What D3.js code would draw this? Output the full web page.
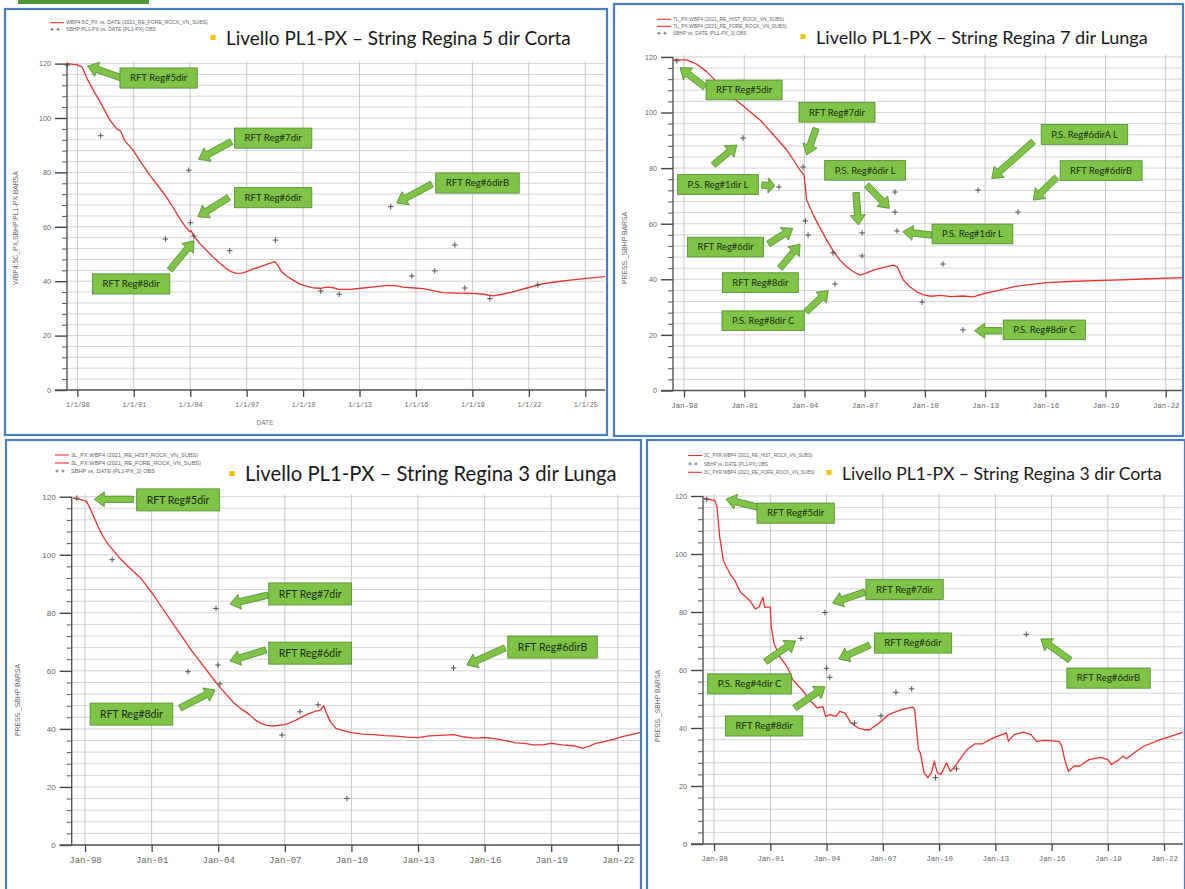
<!DOCTYPE html>
<html>
<head>
<meta charset="utf-8">
<script src="https://cdn.jsdelivr.net/npm/d3@7"></script>
<style>
  body { margin: 0; background: #fff; }
  svg { display: block; }
</style>
</head>
<body>
<svg id="board" width="1185" height="889"></svg>
<script>
// ---- shared axis values -------------------------------------------------
const yTickValues = [0, 20, 40, 60, 80, 100, 120];
const yGridStep = 4;
const xTickYears = [1998, 2001, 2004, 2007, 2010, 2013, 2016, 2019, 2022, 2025];
const xTickSlash = ["1/1/98", "1/1/01", "1/1/04", "1/1/07", "1/1/10", "1/1/13", "1/1/16", "1/1/19", "1/1/22", "1/1/25"];
const xTickJan = ["Jan-98", "Jan-01", "Jan-04", "Jan-07", "Jan-10", "Jan-13", "Jan-16", "Jan-19", "Jan-22", "Jan-25"];

// ---- String Regina 5 dir Corta ----------------------------------------
const titleCorta5 = "Livello PL1-PX – String Regina 5 dir Corta";
const legendCorta5 = [
  ["line", "WBP4:5C_PX vs. DATE (2021_RE_FORE_ROCK_VN_SUBS)"],
  ["cross", "SBHP:PL1-PX vs. DATE (PL1-PX) OBS"]
];
const simCorta5 = [
  [1997.45,120],[1998.0,119.5],[1998.25,118.8],[1998.55,114],[1998.9,109.6],[1999.3,104.8],[1999.72,99.3],
  [2000.1,96],[2000.3,95.2],[2000.52,91.7],[2000.96,88.2],[2001.4,83.5],[2001.85,79],[2002.3,75],[2002.73,71],
  [2003.1,67],[2003.44,63.1],[2003.75,60],[2003.97,58.2],[2004.05,58.6],[2004.15,57],[2004.5,53.9],[2004.85,51.5],
  [2005.2,49],[2005.55,46.8],[2005.9,44.7],[2006.2,43.4],[2006.46,42.9],[2006.75,43],[2007.0,43.5],[2007.35,44.5],
  [2007.7,45.3],[2008.1,46.3],[2008.5,47.2],[2008.65,46],[2008.85,43.5],[2009.15,41.8],[2009.47,40.4],[2009.8,39],
  [2010.18,38.2],[2010.5,37.6],[2010.9,37.4],[2011.3,37.8],[2011.6,37.6],[2011.9,37],[2012.5,37],[2013.2,37.5],
  [2013.9,38],[2014.5,38.5],[2015.0,38.3],[2015.3,37.8],[2015.9,37.5],[2016.4,37.3],[2016.9,36.5],[2017.4,35.8],
  [2018.2,35.6],[2019.0,35.5],[2019.6,35.2],[2020.1,34.6],[2020.6,35.2],[2021.1,36],[2021.9,37.5],[2022.7,39],
  [2023.5,39.8],[2024.3,40.5],[2025.2,41.1],[2026.05,41.7]
];
const obsCorta5 = [
  [1997.48,119.5],[1999.24,93.5],[2002.68,55.5],[2003.92,80.8],[2004.01,61.5],[2004.2,56.6],[2006.1,51.2],
  [2008.53,55.1],[2010.94,36.4],[2011.92,35.2],[2014.66,67.4],[2015.78,41.9],[2017.0,43.8],[2018.07,53.3],
  [2018.6,37.5],[2019.93,33.6],[2022.48,38.6]
];
const notesCorta5 = [
  { text: "RFT Reg#5dir", at: [2002.32,114.7], arrows: [[[2000.36,114.7],[1998.55,119.1]]] },
  { text: "RFT Reg#7dir", at: [2008.41,92.6], arrows: [[[2006.19,91.3],[2004.45,84.8]]] },
  { text: "RFT Reg#6dir", at: [2008.41,70.7], arrows: [[[2006.05,70.8],[2004.41,63.7]]] },
  { text: "RFT Reg#6dirB", at: [2019.27,76.1], arrows: [[[2016.85,75.7],[2014.98,68.75]]] },
  { text: "RFT Reg#8dir", at: [2000.86,39.0], arrows: [[[2002.91,44.1],[2004.2,54.9]]] }
];

// ---- String Regina 7 dir Lunga ----------------------------------------
const titleLunga7 = "Livello PL1-PX – String Regina 7 dir Lunga";
const legendLunga7 = [
  ["line", "7L_PX:WBP4 (2021_RE_HIST_ROCK_VN_SUBS)"],
  ["line", "7L_PX:WBP4 (2021_RE_FORE_ROCK_VN_SUBS)"],
  ["cross", "SBHP vs. DATE (PL1-PX_3) OBS"]
];
const simLunga7 = [
  [1997.47,118.9],[1998.13,118.9],[1998.6,117.5],[1999.13,114.7],[1999.63,111],[2000.1,107.5],[2000.59,104.5],
  [2001.2,100.8],[2001.79,97.3],[2002.45,92],[2003.12,86.5],[2003.45,83],[2003.78,79.3],[2003.98,77.5],
  [2004.11,68.5],[2004.44,63.1],[2004.78,58.5],[2005.11,54.1],[2005.45,50],[2005.77,46.9],[2006.1,44.5],
  [2006.44,42.7],[2006.77,41.5],[2007.1,42.3],[2007.43,43.3],[2007.9,44.2],[2008.43,45.1],[2008.63,44.5],
  [2008.78,42],[2008.93,39.7],[2009.25,37.3],[2009.6,35.5],[2009.92,34.4],[2010.3,33.9],[2010.8,34.2],
  [2011.3,33.8],[2011.9,34],[2012.41,33.7],[2012.9,34.8],[2013.4,35.6],[2014.41,37.3],[2015.2,38.1],
  [2016.07,38.8],[2017.5,39.3],[2019.39,39.7],[2021.2,40.2],[2022.86,40.6]
];
const obsLunga7 = [
  [1997.64,118.6],[2000.94,90.8],[2002.73,73.2],[2003.93,80.4],[2004.05,61],[2004.18,55.9],[2005.42,49.5],
  [2005.52,38.3],[2006.87,56.7],[2006.87,48.4],[2008.51,71.4],[2008.51,64.2],[2008.61,57.4],[2009.86,31.8],
  [2010.9,45.5],[2011.9,21.8],[2012.65,72.1],[2014.64,64.2]
];
const notesLunga7 = [
  { text: "RFT Reg#5dir", at: [2000.99,108.1], arrows: [[[1999.05,109.1],[1997.8,116.1]]] },
  { text: "RFT Reg#7dir", at: [2005.62,100.1], arrows: [[[2004.58,94.3],[2004.11,84.7]]] },
  { text: "P.S. Reg#1dir L", at: [1999.69,74.1], arrows: [[[2001.87,73.9],[2002.53,73.6]], [[1999.46,81.1],[2000.63,88.3]]] },
  { text: "P.S. Reg#6dir L", at: [2007.02,79.2], arrows: [[[2006.57,71.2],[2006.69,59.5]], [[2007.1,73.9],[2008.23,65.5]]] },
  { text: "P.S. Reg#1dir L", at: [2012.37,56.3], arrows: [[[2010.34,55.9],[2008.9,57.1]]] },
  { text: "RFT Reg#6dir", at: [2000.07,51.6], arrows: [[[2002.2,52.7],[2003.42,58.3]]] },
  { text: "RFT Reg#8dir", at: [2001.8,38.8], arrows: [[[2002.78,44],[2003.78,52.7]]] },
  { text: "P.S. Reg#8dir C", at: [2001.94,25.1], arrows: [[[2004.08,28.3],[2005.19,35.9]]] },
  { text: "P.S. Reg#6dirA L", at: [2017.95,92.1], arrows: [[[2015.4,89.5],[2013.33,76.3]]] },
  { text: "RFT Reg#6dirB", at: [2018.78,79.1], arrows: [[[2016.57,76.7],[2015.4,68.5]]] },
  { text: "P.S. Reg#8dir C", at: [2015.95,21.8], arrows: [[[2013.83,21.5],[2012.47,21.5]]] }
];

// ---- String Regina 3 dir Lunga ----------------------------------------
const titleLunga3 = "Livello PL1-PX – String Regina 3 dir Lunga";
const legendLunga3 = [
  ["line", "3L_PX:WBP4 (2021_RE_HIST_ROCK_VN_SUBS)"],
  ["line", "3L_PX:WBP4 (2021_RE_FORE_ROCK_VN_SUBS)"],
  ["cross", "SBHP vs. DATE (PL1-PX_2) OBS"]
];
const simLunga3 = [
  [1997.45,119.5],[1997.8,119],[1998.05,118.5],[1998.2,116.5],[1998.4,113],[1998.6,109.5],[1998.82,106.2],
  [1999.05,103.5],[1999.27,101.6],[1999.55,99],[1999.8,97],[2000.15,94.5],[2000.5,92],[2000.75,89.5],
  [2001.0,87],[2001.45,82],[2001.9,77],[2002.35,72],[2002.8,67],[2003.2,63],[2003.6,59],[2004.0,55],
  [2004.35,52],[2004.7,49],[2005.05,46.8],[2005.4,45],[2005.65,43.2],[2005.9,42],[2006.2,41.2],[2006.5,41],
  [2006.75,41.3],[2007.0,41.5],[2007.25,42.2],[2007.5,43],[2008.0,45],[2008.35,46],[2008.6,46.5],[2008.75,48],
  [2008.9,45],[2009.05,42.5],[2009.3,40.2],[2009.6,39.5],[2010.0,38.7],[2010.5,38.2],[2011.0,38],[2011.5,37.7],
  [2012.0,37.5],[2012.5,37.2],[2013.0,37],[2013.5,37.6],[2014.0,37.8],[2014.6,38],[2015.0,37.3],[2015.5,36.8],
  [2016.0,37],[2016.5,36.6],[2017.0,35.9],[2017.4,35.2],[2017.8,35],[2018.2,34.5],[2018.6,34.5],[2019.0,35],
  [2019.5,34.5],[2020.0,34.2],[2020.4,33.4],[2020.7,34],[2021.0,35],[2021.4,35.6],[2021.8,36.4],[2022.2,37.3],
  [2022.6,38],[2023.0,38.7]
];
const obsLunga3 = [
  [1997.63,119.5],[1999.22,98.3],[2002.64,59.7],[2003.9,81.5],[2003.99,62],[2004.08,55.5],[2006.87,37.9],
  [2007.68,45.9],[2008.5,48.3],[2009.8,16],[2014.6,61]
];
const notesLunga3 = [
  { text: "RFT Reg#5dir", at: [2002.19,118.9], arrows: [[[2000.18,119.1],[1998.42,119.1]]] },
  { text: "RFT Reg#7dir", at: [2008.14,86.5], arrows: [[[2006.24,86.1],[2004.53,83.0]]] },
  { text: "RFT Reg#6dir", at: [2008.14,66.1], arrows: [[[2006.15,67.2],[2004.53,63.4]]] },
  { text: "RFT Reg#6dirB", at: [2019.06,68.2], arrows: [[[2016.92,67.9],[2015.2,62.0]]] },
  { text: "RFT Reg#8dir", at: [2000.09,45.1], arrows: [[[2002.28,47.2],[2003.86,53.4]]] }
];

// ---- String Regina 3 dir Corta ----------------------------------------
const titleCorta3 = "Livello PL1-PX – String Regina 3 dir Corta";
const legendCorta3 = [
  ["line", "3C_PXR:WBP4 (2021_RE_HIST_ROCK_VN_SUBS)"],
  ["cross", "SBHP vs. DATE (PL1-PX) OBS"],
  ["line", "3C_PXR:WBP4 (2021_RE_FORE_ROCK_VN_SUBS)"]
];
const simCorta3 = [
  [1997.48,119.2],[1998.05,118.4],[1998.15,116.5],[1998.3,106],[1998.5,97.7],[1998.9,92.6],[1999.1,90.9],
  [1999.4,86.9],[1999.9,84],[2000.2,81.1],[2000.4,81.7],[2000.6,85.1],[2000.7,81.7],[2001.0,81.7],
  [2001.05,74.9],[2001.2,69.1],[2001.5,64.6],[2001.9,61.1],[2002.2,56.6],[2002.7,53.1],[2003.1,49.7],
  [2003.5,46.9],[2003.8,47.4],[2003.95,44],[2004.2,44.6],[2004.5,44],[2004.7,45.7],[2005.0,45.1],
  [2005.3,41.7],[2005.7,40],[2006.0,39.4],[2006.3,39.4],[2006.8,41.7],[2007.3,44.6],[2008.0,46.3],
  [2008.6,47.2],[2008.7,46.3],[2008.9,32.6],[2009.0,31.4],[2009.2,24.6],[2009.4,22.9],[2009.6,24.6],
  [2009.75,28.6],[2009.9,24.6],[2010.1,24],[2010.4,28],[2010.6,25.1],[2010.8,26.3],[2011.1,29.1],
  [2011.5,32.6],[2011.9,34.5],[2012.3,34.5],[2012.7,36],[2013.1,37.1],[2013.6,38.3],[2013.7,35.4],
  [2014.0,37.7],[2014.5,38.6],[2014.9,37.7],[2015.2,35.4],[2015.6,35.7],[2016.4,35.4],[2016.55,33.7],
  [2016.7,29.1],[2016.9,25.1],[2017.2,26.9],[2017.5,26.9],[2018.0,29.1],[2018.6,29.9],[2019.0,29.1],
  [2019.2,27.4],[2019.6,29.1],[2019.8,30.3],[2020.0,29.4],[2020.4,31.4],[2020.9,33.7],[2021.8,36],
  [2023.0,38.5]
];
const obsCorta3 = [
  [1997.61,118.9],[2002.64,70.9],[2003.91,79.8],[2004.0,60.6],[2004.17,57.5],[2005.49,41.7],[2006.9,44.2],
  [2007.7,52.3],[2008.54,53.5],[2009.81,22.9],[2010.93,25.9],[2014.65,72.3]
];
const notesCorta3 = [
  { text: "RFT Reg#5dir", at: [2002.35,114.1], arrows: [[[2000.36,116.1],[1998.64,118.9]]] },
  { text: "RFT Reg#7dir", at: [2008.16,87.8], arrows: [[[2006.05,86.9],[2004.32,83.1]]] },
  { text: "RFT Reg#6dir", at: [2008.61,69.3], arrows: [[[2006.3,68.6],[2004.65,63.8]]] },
  { text: "P.S. Reg#4dir C", at: [1999.89,55.2], arrows: [[[2000.74,62.9],[2002.34,70.0]]] },
  { text: "RFT Reg#8dir", at: [2000.67,40.7], arrows: [[[2002.3,46.9],[2003.92,54.2]]] },
  { text: "RFT Reg#6dirB", at: [2019.04,57.2], arrows: [[[2016.99,63.4],[2015.43,70.7]]] }
];

// ---- page layout of the four charts -------------------------------------
const panels = [
  { frame: [5, 9, 602, 426], xDom: [1997.45, 2026.05], xPx: [67, 605], yPx: [390, 63.6],
    title: titleCorta5, bullet: [213, 45], titleW: 345, legend: legendCorta5, legendAt: [50, 22.7, 6.6, 5.1],
    yTitle: "WBP4:5C_PX,SBHP:PL1-PX   BARSA", yTitleAt: [18, 228], xTitle: "DATE", xTitleAt: [265, 425],
    tickText: xTickSlash, tickFont: 6.6, yFont: 7.2, sim: simCorta5, obs: obsCorta5, notes: notesCorta5, noteFont: 9.6 },
  { frame: [614, 4, 569, 432], xDom: [1997.45, 2022.86], xPx: [673, 1183], yPx: [390.5, 56.9],
    title: titleLunga7, bullet: [803, 44], titleW: 332, legend: legendLunga7, legendAt: [657, 19.3, 7, 4.9],
    yTitle: "PRESS._SBHP   BARSA", yTitleAt: [627, 248], xTitle: null,
    tickText: xTickJan, tickFont: 7.4, yFont: 7.2, sim: simLunga7, obs: obsLunga7, notes: notesLunga7, noteFont: 9.4 },
  { frame: [6, 440, 635, 460], xDom: [1997.4, 2023.0], xPx: [71.7, 640], yPx: [845, 496.7],
    title: titleLunga3, bullet: [232, 481], titleW: 372, legend: legendLunga3, legendAt: [55, 455, 8, 5.6],
    yTitle: "PRESS._SBHP   BARSA", yTitleAt: [20, 700], xTitle: null,
    tickText: xTickJan, tickFont: 9, yFont: 8, sim: simLunga3, obs: obsLunga3, notes: notesLunga3, noteFont: 10.5 },
  { frame: [647, 440, 538, 460], xDom: [1997.41, 2023.01], xPx: [703, 1183], yPx: [844, 496],
    title: titleCorta3, bullet: [829, 480], titleW: 320, legend: legendCorta3, legendAt: [688, 455.5, 8.4, 4.6],
    yTitle: "PRESS._SBHP   BARSA", yTitleAt: [660, 706], xTitle: null,
    tickText: xTickJan, tickFont: 7.4, yFont: 7.2, sim: simCorta3, obs: obsCorta3, notes: notesCorta3, noteFont: 9.6 }
];

const RED = "#e8332e";
const GREEN = "#7fc446";
const GREEN_EDGE = "#4f8a2c";
const svg = d3.select("#board");

// thin header strip above the charts
svg.append("rect").attr("x", 18).attr("y", 0).attr("width", 131).attr("height", 4).attr("fill", "#4f9a34");

// block arrow outline from tail to head
function blockArrow(x1, y1, x2, y2) {
  const dx = x2 - x1, dy = y2 - y1, L = Math.hypot(dx, dy);
  const ux = dx / L, uy = dy / L, nx = -uy, ny = ux;
  const sw = 3.2, hw = 7.5, hl = Math.min(10, L * 0.5);
  const bx = x2 - ux * hl, by = y2 - uy * hl;
  const pts = [
    [x1 + nx * sw, y1 + ny * sw], [bx + nx * sw, by + ny * sw], [bx + nx * hw, by + ny * hw], [x2, y2],
    [bx - nx * hw, by - ny * hw], [bx - nx * sw, by - ny * sw], [x1 - nx * sw, y1 - ny * sw]
  ];
  return "M" + pts.map(p => p.join(",")).join("L") + "Z";
}

panels.forEach(p => {
  const g = svg.append("g");
  const x = d3.scaleLinear().domain(p.xDom).range(p.xPx);
  const y = d3.scaleLinear().domain([0, 120]).range(p.yPx);
  const left = p.xPx[0], right = p.xPx[1];
  const top = y(120), bottom = y(0);

  // horizontal grid every 4 units
  const gridY = d3.range(0, 121, yGridStep);
  g.append("g").selectAll("line").data(gridY).join("line")
    .attr("x1", left).attr("x2", right)
    .attr("y1", d => y(d)).attr("y2", d => y(d))
    .attr("stroke", "#d0d0d0").attr("stroke-width", 0.9);

  // vertical grid on each labelled year
  const years = xTickYears.filter(v => v >= p.xDom[0] && v <= p.xDom[1]);
  g.append("g").selectAll("line").data(years).join("line")
    .attr("x1", d => x(d)).attr("x2", d => x(d))
    .attr("y1", top - 2).attr("y2", bottom)
    .attr("stroke", "#c8c8c8").attr("stroke-width", 1);

  // y axis: minor ticks every 4, major every 20
  const yMinor = d3.axisLeft(y).tickValues(gridY.filter(v => v % 20 !== 0)).tickSize(5).tickFormat("");
  g.append("g").attr("transform", `translate(${left},0)`).call(yMinor)
    .call(s => s.select(".domain").remove())
    .selectAll("line").attr("stroke", "#555");
  const yMajor = d3.axisLeft(y).tickValues(yTickValues).tickSize(12).tickPadding(4);
  const ya = g.append("g").attr("transform", `translate(${left},0)`).call(yMajor);
  ya.select(".domain").attr("stroke", "#555").attr("stroke-width", 1.4).attr("d", `M0,${top}V${bottom}`);
  ya.selectAll(".tick line").attr("stroke", "#444").attr("stroke-width", 1.4);
  ya.selectAll("text").attr("fill", "#666").attr("font-size", p.yFont).attr("font-family", "Liberation Sans, Arial, sans-serif");

  // x axis
  const xa = d3.axisBottom(x).tickValues(years).tickSize(7).tickPadding(5)
    .tickFormat(d => p.tickText[xTickYears.indexOf(d)]);
  const xg = g.append("g").attr("transform", `translate(0,${bottom})`).call(xa);
  xg.select(".domain").attr("stroke", "#555").attr("stroke-width", 1.6).attr("d", `M${left - 12},0H${right}`);
  xg.selectAll(".tick line").attr("stroke", "#444").attr("stroke-width", 1.3);
  xg.selectAll("text").attr("fill", "#666").attr("font-size", p.tickFont)
    .attr("font-family", "Liberation Mono, DejaVu Sans Mono, monospace");

  // axis titles
  g.append("text").attr("transform", `translate(${p.yTitleAt[0]},${p.yTitleAt[1]}) rotate(-90)`)
    .attr("text-anchor", "middle").attr("font-size", 6.8).attr("fill", "#6a6a6a")
    .attr("font-family", "Liberation Sans, Arial, sans-serif").text(p.yTitle);
  if (p.xTitle) {
    g.append("text").attr("x", p.xTitleAt[0]).attr("y", p.xTitleAt[1]).attr("text-anchor", "middle")
      .attr("font-size", 6.5).attr("fill", "#777").attr("font-family", "Liberation Sans, Arial, sans-serif")
      .text(p.xTitle);
  }

  // simulated pressure
  const line = d3.line().x(d => x(d[0])).y(d => y(d[1]));
  g.append("path").datum(p.sim).attr("d", line)
    .attr("fill", "none").attr("stroke", RED).attr("stroke-width", 1.3).attr("stroke-linejoin", "round");

  // measured points
  const cs = 2.8;
  g.append("g").selectAll("path").data(p.obs).join("path")
    .attr("d", d => `M${x(d[0]) - cs},${y(d[1])}h${2 * cs}M${x(d[0])},${y(d[1]) - cs}v${2 * cs}`)
    .attr("stroke", "#444").attr("stroke-width", 0.9);

  // annotation arrows and labels
  const ng = g.append("g");
  p.notes.forEach(n => {
    n.arrows.forEach(a => {
      ng.append("path").attr("d", blockArrow(x(a[0][0]), y(a[0][1]), x(a[1][0]), y(a[1][1])))
        .attr("fill", GREEN).attr("stroke", GREEN_EDGE).attr("stroke-width", 0.8).attr("stroke-linejoin", "round");
    });
  });
  p.notes.forEach(n => {
    const cx = x(n.at[0]), cy = y(n.at[1]);
    const t = ng.append("text").attr("x", cx).attr("y", cy + p.noteFont * 0.35)
      .attr("text-anchor", "middle").attr("font-size", p.noteFont)
      .attr("font-family", "Lato, 'Open Sans', sans-serif").attr("fill", "#1d2a14").text(n.text);
    const w = t.node().getComputedTextLength() + 20;
    const h = p.noteFont * 2.1;
    ng.insert("rect", () => t.node()).attr("x", cx - w / 2).attr("y", cy - h / 2)
      .attr("width", w).attr("height", h).attr("fill", GREEN).attr("stroke", GREEN_EDGE).attr("stroke-width", 0.8);
  });

  // legend
  const [lx, ly, lstep, lfont] = p.legendAt;
  p.legend.forEach((item, i) => {
    const yy = ly + i * lstep;
    if (item[0] === "line") {
      g.append("line").attr("x1", lx).attr("x2", lx + 14).attr("y1", yy).attr("y2", yy)
        .attr("stroke", RED).attr("stroke-width", 1.1);
    } else {
      [lx + 2, lx + 8].forEach(px => {
        g.append("path").attr("d", `M${px - 1.5},${yy}h3M${px},${yy - 1.5}v3`).attr("stroke", "#444").attr("stroke-width", 0.7);
      });
    }
    g.append("text").attr("x", lx + 16).attr("y", yy + lfont * 0.35).attr("font-size", lfont)
      .attr("fill", "#666").attr("font-family", "Liberation Sans, Arial, sans-serif").text(item[1]);
  });

  // title with square bullet
  g.append("rect").attr("x", p.bullet[0] - 2.5).attr("y", p.bullet[1] - 10).attr("width", 5).attr("height", 5)
    .attr("fill", "#f6c200");
  const tt = g.append("text").attr("x", p.bullet[0] + 13).attr("y", p.bullet[1])
    .attr("font-size", 18).attr("fill", "#1a1a1a").attr("font-family", "Lato, 'Open Sans', sans-serif").text(p.title);
  const tw = tt.node().getComputedTextLength();
  tt.attr("font-size", 18 * p.titleW / tw);

  // frame
  svg.append("rect").attr("x", p.frame[0]).attr("y", p.frame[1]).attr("width", p.frame[2]).attr("height", p.frame[3])
    .attr("fill", "none").attr("stroke", "#4a7ec0").attr("stroke-width", 2.2);
});
</script>
</body>
</html>
